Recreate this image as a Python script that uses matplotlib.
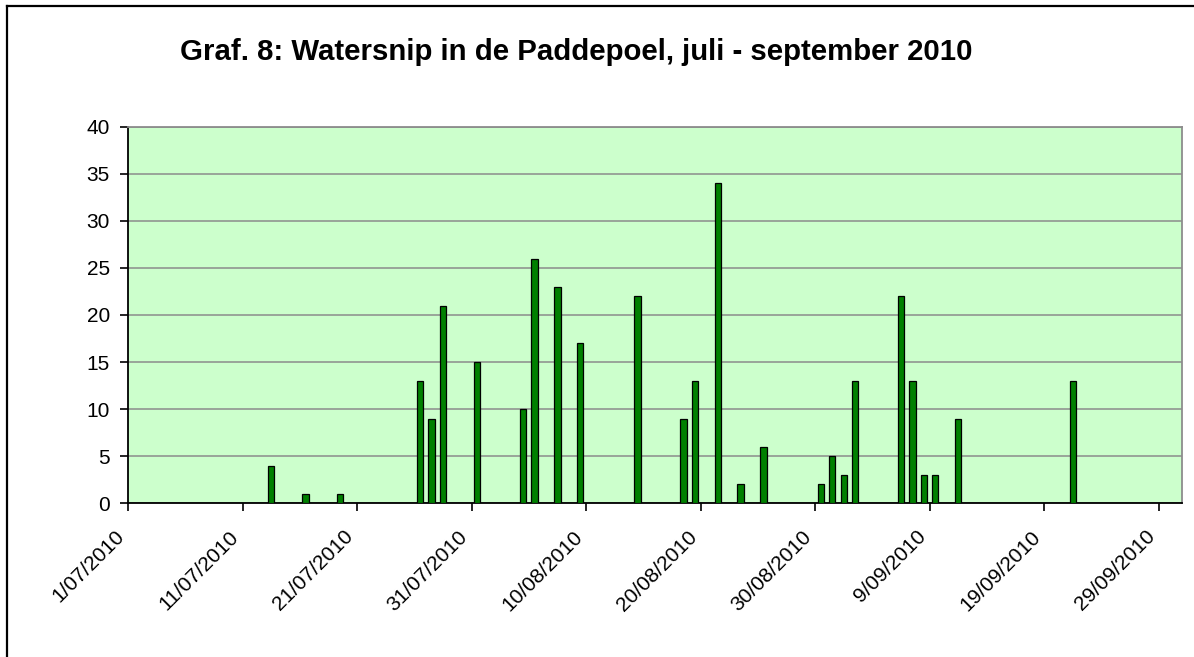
import pandas as pd
import matplotlib.pyplot as plt
from matplotlib.lines import Line2D

plt.rcParams['font.family'] = ['Liberation Sans', 'DejaVu Sans']

# Counts of Watersnip per observation date
dates = ['2010-07-13', '2010-07-16', '2010-07-19', '2010-07-26', '2010-07-27',
         '2010-07-28', '2010-07-31', '2010-08-04', '2010-08-05', '2010-08-07',
         '2010-08-09', '2010-08-14', '2010-08-18', '2010-08-19', '2010-08-21',
         '2010-08-23', '2010-08-25', '2010-08-30', '2010-08-31', '2010-09-01',
         '2010-09-02', '2010-09-06', '2010-09-07', '2010-09-08', '2010-09-09',
         '2010-09-11', '2010-09-21']
counts = [4, 1, 1, 13, 9, 21, 15, 10, 26, 23, 17, 22, 9, 13, 34, 2, 6,
          2, 5, 3, 13, 22, 13, 3, 3, 9, 13]

start = pd.Timestamp('2010-07-01')
tick_dates = pd.date_range(start, periods=10, freq='10D')
tick_labels = [f"{d.day}/{d.month:02d}/{d.year}" for d in tick_dates]

# day offsets from 1 July; Excel puts each bar in the middle of its day slot
day_idx = (pd.to_datetime(dates) - start).days
tick_idx = (tick_dates - start).days

fig = plt.figure(figsize=(11.94, 6.57), dpi=100)
ax = fig.add_axes([128 / 1194, 1 - 503.3 / 657, 1053.5 / 1194, 376.6 / 657])
ax.set_facecolor('#CCFFCC')

ax.bar(day_idx + 0.5, counts, width=0.55, color='#008000',
       edgecolor='black', linewidth=0.9, zorder=3)

ax.set_xlim(0, 92)
ax.set_ylim(0, 40)
ax.set_yticks(range(0, 41, 5))
ax.set_xticks(tick_idx)
ax.set_xticklabels(tick_labels, rotation=45, ha='right', va='top',
                   rotation_mode='default')
ax.tick_params(axis='both', labelsize=15, length=6, width=1.2, color='black')
ax.tick_params(axis='x', pad=11)
ax.tick_params(axis='y', pad=7)

ax.grid(axis='y', color='#8c8c8c', linewidth=1.1, zorder=1)
ax.set_axisbelow(True)

for side in ['left', 'bottom']:
    ax.spines[side].set_color('black')
    ax.spines[side].set_linewidth(1.3)
for side in ['top', 'right']:
    ax.spines[side].set_color('#8c8c8c')
    ax.spines[side].set_linewidth(1.3)

fig.text(576 / 1194, 1 - 52 / 657,
         'Graf. 8: Watersnip in de Paddepoel, juli - september 2010',
         ha='center', va='center', fontsize=21.2, fontweight='bold')

# chart frame (only left and top are visible in the crop)
fig.add_artist(Line2D([7 / 1194, 7 / 1194], [0, 1 - 6 / 657],
                      color='black', linewidth=1.6))
fig.add_artist(Line2D([7 / 1194, 1], [1 - 6 / 657, 1 - 6 / 657],
                      color='black', linewidth=1.6))

fig.savefig('out.png', dpi=100)
